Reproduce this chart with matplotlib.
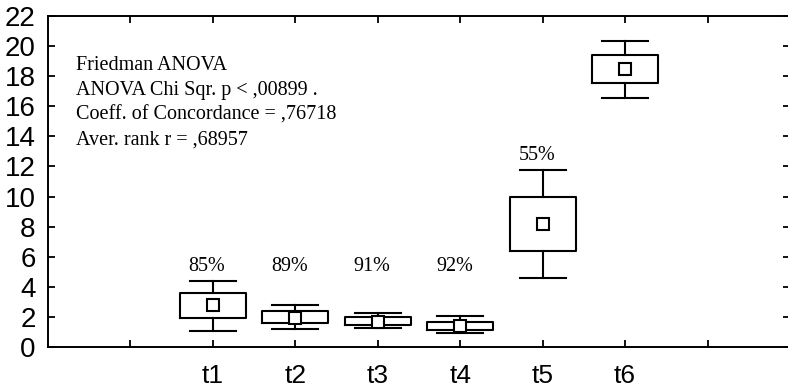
import matplotlib
matplotlib.use("Agg")
import matplotlib.pyplot as plt
import matplotlib.transforms as mtransforms
import numpy as np

categories = ["t1", "t2", "t3", "t4", "t5", "t6"]
q1 = [1.90, 1.57, 1.46, 1.13, 6.38, 17.52]
q3 = [3.60, 2.41, 2.01, 1.68, 9.99, 19.40]
whisk_lo = [1.06, 1.17, 1.24, 0.91, 4.56, 16.52]
whisk_hi = [4.40, 2.79, 2.24, 2.06, 11.76, 20.35]
means = [2.77, 1.93, 1.68, 1.40, 8.15, 18.47]
percent = [85, 89, 91, 92, 55, None]
stats_lines = ["Friedman ANOVA",
               "ANOVA Chi Sqr. p < ,00899 .",
               "Coeff. of Concordance = ,76718",
               "Aver. rank r = ,68957"]

fig = plt.figure(figsize=(7.88, 3.90), dpi=100)
ax = fig.add_axes([48 / 788, 1 - 347 / 390, 742 / 788, 331 / 390])

positions = np.arange(len(categories)) + 2
bstats = []
for i in range(len(categories)):
    bstats.append(dict(med=means[i], q1=q1[i], q3=q3[i], whislo=whisk_lo[i],
                       whishi=whisk_hi[i], mean=means[i], fliers=[]))

lw = 1.5
ax.bxp(bstats, positions=positions, widths=0.8, capwidths=0.56,
       showmeans=True, showfliers=False, patch_artist=False,
       boxprops=dict(color="black", linewidth=lw),
       whiskerprops=dict(color="black", linewidth=lw),
       capprops=dict(color="black", linewidth=lw),
       medianprops=dict(linewidth=0),
       meanprops=dict(marker="s", markerfacecolor="white", markeredgecolor="black",
                      markersize=8, markeredgewidth=lw))

serif = ["Liberation Serif", "DejaVu Serif"]
sans = ["Liberation Sans", "DejaVu Sans"]

for i, p in enumerate(percent):
    if p is None:
        continue
    y = max(whisk_hi[i], whisk_hi[0]) + 0.95
    ax.text(positions[i] - 0.07, y, f"{p}%", ha="center", va="center",
            fontsize=14.5, family=serif)

blend = mtransforms.blended_transform_factory(ax.transData, ax.transAxes)
baselines = [0.837, 0.762, 0.688, 0.613]
for line, yb in zip(stats_lines, baselines):
    ax.text(0.34, yb, line, transform=blend, ha="left", va="baseline",
            fontsize=14.5, family=serif)

ax.set_xlim(0, 9)
ax.set_ylim(0, 22)
ax.set_xticks(np.arange(1, 9))
ax.set_xticklabels([""] + categories + [""])
ax.set_yticks(np.arange(0, 23, 2))

for s in ax.spines.values():
    s.set_linewidth(1.4)
    s.set_color("black")

ax.tick_params(axis="both", direction="in", length=5, width=1.3, colors="black")
ax.tick_params(axis="x", top=True, pad=12.5, labelsize=19)
ax.tick_params(axis="y", right=True, pad=9, labelsize=20)
for lab in ax.get_xticklabels() + ax.get_yticklabels():
    lab.set_family(sans)

fig.savefig("out.png", dpi=100)
